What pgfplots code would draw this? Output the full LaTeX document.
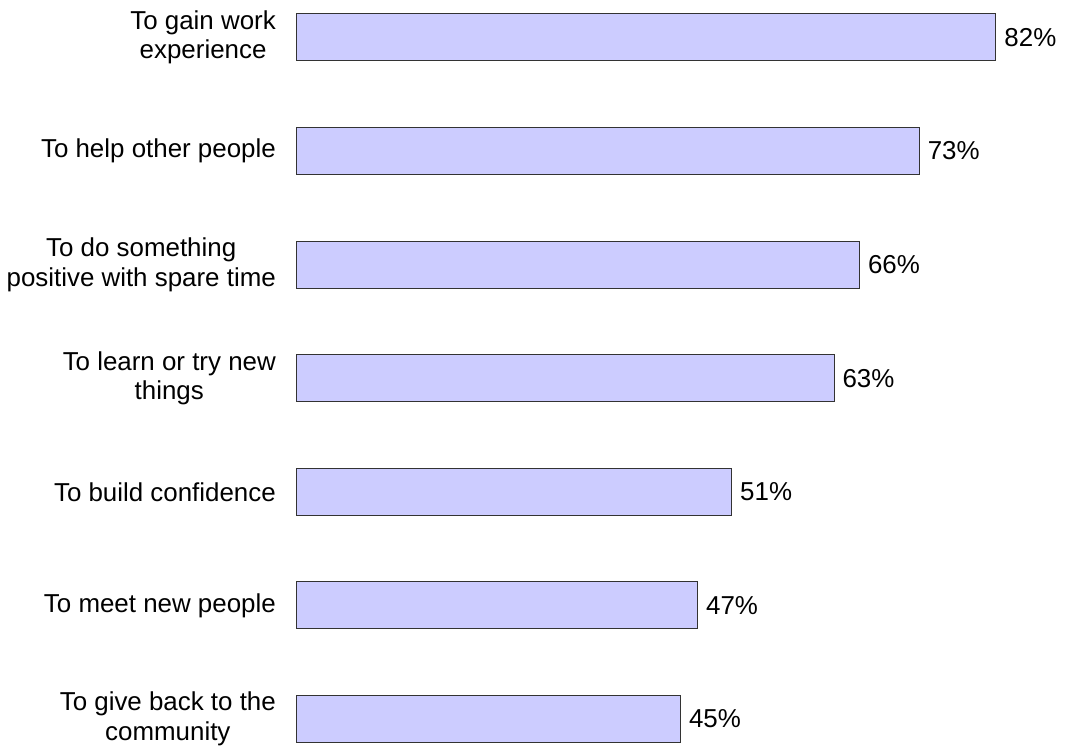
\documentclass[border=0pt]{standalone}
\usepackage{fontspec}
\setmainfont{Liberation Sans}
\usepackage{pgfplots}
\pgfplotsset{compat=1.18}
\usepackage{pgfplotstable}

\definecolor{barfill}{HTML}{CCCCFF}
\definecolor{baredge}{HTML}{333333}

\pgfplotstableread{
idx value
0   82
1   73
2   66
3   63
4   51
5   47
6   45
}\reasons

\newcommand{\lblfont}{\fontsize{25.9}{29.5}\selectfont}

\begin{document}
\begin{tikzpicture}
\begin{axis}[
    xbar,
    scale only axis,
    width=771pt,
    height=749pt,
    xmin=0, xmax=90.45,
    ymin=-0.330, ymax=6.264,
    y dir=reverse,
    enlargelimits=false,
    bar width=47pt,
    axis line style={draw=none},
    major tick length=0pt,
    xtick=\empty,
    ytick=data,
    yticklabels={{To gain work\\experience},
                 {To help other people},
                 {To do something\\positive with spare time},
                 {To learn or try new\\things},
                 {To build confidence},
                 {To meet new people},
                 {To give back to the\\community}},
    yticklabel style={font=\lblfont, align=center, inner sep=0pt,
                      anchor=east, xshift=-21pt},
    point meta=x,
    nodes near coords={\pgfmathprintnumber{\pgfplotspointmeta}\%},
    nodes near coords style={font=\lblfont, anchor=west, inner sep=0pt, xshift=8pt,
                             /pgf/number format/assume math mode=true},
    clip=false,
]
\addplot[fill=barfill, draw=baredge, line width=1pt] table[x=value, y=idx] {\reasons};
\end{axis}
\pgfresetboundingbox
\path (current axis.south west) ++(-297pt,0pt) rectangle (current axis.north east);
\end{tikzpicture}
\end{document}
